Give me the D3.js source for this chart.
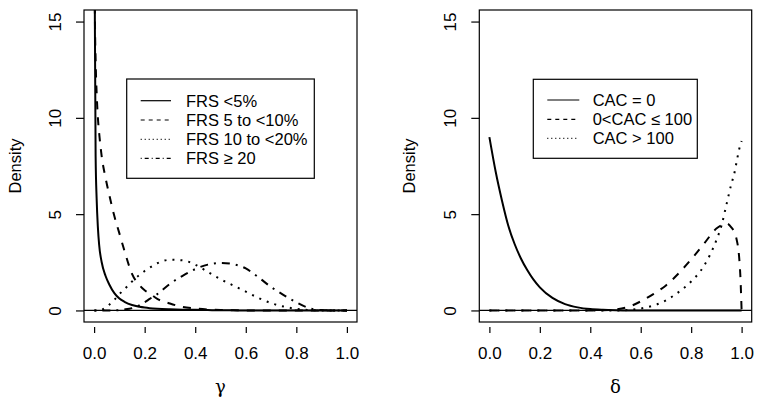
<!DOCTYPE html>
<html>
<head>
<meta charset="utf-8">
<script src="https://cdn.jsdelivr.net/npm/d3@7"></script>
<style>
  body { margin: 0; background: #fff; }
  svg { display: block; }
  text { font-family: "Liberation Sans", Arial, Helvetica, sans-serif; fill: #000; }
</style>
</head>
<body>
<svg id="chart" width="762" height="407"></svg>
<script>
// ---- data ----
// left panel: density of gamma by FRS group
var gammaGrid = [0.001, 0.003, 0.006, 0.01, 0.015, 0.02, 0.03, 0.045, 0.06, 0.08, 0.1, 0.12, 0.15, 0.18, 0.2, 0.22,
                 0.25, 0.3, 0.35, 0.4, 0.45, 0.5, 0.55, 0.6, 0.65, 0.7, 0.75, 0.8, 0.85, 0.9, 0.95, 1.0];
var frsLow  = [40, 15, 8, 5.8, 4.3, 3.4, 2.5, 1.8, 1.35, 0.9, 0.62, 0.45, 0.28, 0.19, 0.15, 0.12,
               0.09, 0.06, 0.04, 0.03, 0.02, 0.01, 0.005, 0, 0, 0, 0, 0, 0, 0, 0, 0];
var frsMid  = [20, 15.5, 13, 11.3, 10, 9.2, 8.0, 6.9, 6.0, 4.9, 4.0, 3.1, 1.9, 1.3, 1.05, 0.88,
               0.6, 0.36, 0.18, 0.1, 0.05, 0.02, 0.01, 0, 0, 0, 0, 0, 0, 0, 0, 0];
var frsHigh = [0, 0, 0, 0, 0, 0.01, 0.03, 0.15, 0.3, 0.55, 0.85, 1.1, 1.5, 1.85, 2.05, 2.22,
               2.45, 2.63, 2.6, 2.38, 2.0, 1.62, 1.3, 0.98, 0.65, 0.38, 0.2, 0.08, 0.02, 0, 0, 0];
var frsTop  = [0, 0, 0, 0, 0, 0, 0, 0, 0, 0, 0.02, 0.05, 0.12, 0.27, 0.42, 0.6,
               0.85, 1.38, 1.8, 2.15, 2.38, 2.47, 2.4, 2.18, 1.72, 1.22, 0.8, 0.42, 0.12, 0.02, 0, 0];
var frsLabels = ["FRS <5%", "FRS 5 to <10%", "FRS 10 to <20%", "FRS \u2265 20"];

// right panel: density of delta by CAC group
var deltaGrid = [0, 0.025, 0.05, 0.075, 0.1, 0.125, 0.15, 0.175, 0.2, 0.25, 0.3, 0.35, 0.4, 0.45, 0.5, 0.55,
                 0.6, 0.65, 0.7, 0.75, 0.8, 0.85, 0.9, 0.92, 0.94, 0.96, 0.97, 0.98, 0.99, 0.995, 1.0];
var cacZero = [9.0, 7.2, 5.7, 4.4, 3.45, 2.7, 2.1, 1.6, 1.2, 0.65, 0.33, 0.16, 0.07, 0.03, 0.01, 0,
               0, 0, 0, 0, 0, 0, 0, 0, 0, 0, 0, 0, 0, 0, 0];
var cacMid  = [0, 0, 0, 0, 0, 0, 0, 0, 0, 0, 0, 0, 0, 0.01, 0.05, 0.18,
               0.47, 0.85, 1.3, 1.92, 2.65, 3.45, 4.25, 4.42, 4.52, 4.3, 4.1, 3.7, 2.8, 1.8, 0];
var cacHigh = [0, 0, 0, 0, 0, 0, 0, 0, 0, 0, 0, 0, 0, 0, 0, 0.02,
               0.1, 0.25, 0.52, 0.95, 1.5, 2.3, 3.65, 4.4, 5.5, 6.6, 7.05, 7.7, 8.35, 8.6, 8.8];
var cacLabels = ["CAC = 0", "0<CAC \u2264 100", "CAC > 100"];

var xTicks = [0, 0.2, 0.4, 0.6, 0.8, 1.0];
var yTicks = [0, 5, 10, 15];

// R line types: solid, dashed, dotted, dotdash (pattern in units of lwd)
var ltys = [null, [4, 4], [1, 3], [1, 3, 4, 3]];
function dash(i, lwd) {
  return ltys[i] ? ltys[i].map(d => d * lwd).join(",") : null;
}

var svg = d3.select("#chart");

var panels = [
  {id: "left", x0: 84, x1: 357, grid: gammaGrid, series: [frsLow, frsMid, frsHigh, frsTop],
   labels: frsLabels, xlab: "\u03b3", ylabX: 21,
   legend: {x: 126.7, y: 79, w: 187.6, h: 99.3, lx0: 140.7, lx1: 171, tx: 186, ry: [100.7, 120, 139.3, 158.3]}},
  {id: "right", x0: 479.3, x1: 751.7, grid: deltaGrid, series: [cacZero, cacMid, cacHigh],
   labels: cacLabels, xlab: "\u03b4", ylabX: 415,
   legend: {x: 533.3, y: 79.3, w: 164, h: 79, lx0: 547.3, lx1: 579.3, tx: 592.7, ry: [100, 119.3, 138.3]}}
];

var y0 = 10, y1 = 322;

panels.forEach(function(p) {
  var x = d3.scaleLinear().domain([-0.04, 1.04]).range([p.x0, p.x1]);
  var y = d3.scaleLinear().domain([-0.6, 15.6]).range([y1, y0]);

  svg.append("clipPath").attr("id", "clip-" + p.id)
    .append("rect")
    .attr("x", p.x0).attr("y", y0)
    .attr("width", p.x1 - p.x0).attr("height", y1 - y0);

  // zero line (abline h = 0)
  svg.append("line")
    .attr("x1", p.x0).attr("x2", p.x1)
    .attr("y1", y(0)).attr("y2", y(0))
    .attr("stroke", "#000").attr("stroke-width", 1.2);

  var line = d3.line()
    .x((d, i) => x(p.grid[i]))
    .y(d => y(d))
    .curve(d3.curveMonotoneX);

  var g = svg.append("g").attr("clip-path", "url(#clip-" + p.id + ")");
  p.series.forEach(function(s, i) {
    g.append("path")
      .attr("d", line(s))
      .attr("fill", "none")
      .attr("stroke", "#000")
      .attr("stroke-width", 2)
      .attr("stroke-dasharray", dash(i, 2));
  });

  // plot box
  svg.append("rect")
    .attr("x", p.x0).attr("y", y0)
    .attr("width", p.x1 - p.x0).attr("height", y1 - y0)
    .attr("fill", "none").attr("stroke", "#000").attr("stroke-width", 1.2);

  // x axis (R style: ticks below the box, no axis line)
  var xAxis = svg.append("g")
    .attr("transform", `translate(0,${y1 + 5})`)
    .call(d3.axisBottom(x).tickValues(xTicks).tickSize(6).tickFormat(d3.format(".1f")));
  xAxis.select(".domain").remove();
  xAxis.selectAll("line").attr("stroke-width", 1.2);
  xAxis.selectAll("text")
    .attr("y", 31.5).attr("dy", 0)
    .style("font-size", "17px");

  // y axis (labels parallel to axis)
  var yAxis = svg.append("g")
    .attr("transform", `translate(${p.x0},0)`)
    .call(d3.axisLeft(y).tickValues(yTicks).tickSize(8));
  yAxis.select(".domain").remove();
  yAxis.selectAll("line").attr("stroke-width", 1.2);
  yAxis.selectAll("text")
    .attr("x", 0).attr("dy", 0)
    .attr("transform", "translate(-23,0) rotate(-90)")
    .attr("text-anchor", "middle")
    .style("font-size", "17px");

  // axis titles
  svg.append("text")
    .attr("x", (p.x0 + p.x1) / 2).attr("y", 393)
    .attr("text-anchor", "middle")
    .style("font-size", "18px")
    .style("font-family", "'DejaVu Serif', serif")
    .text(p.xlab);

  svg.append("text")
    .attr("transform", `translate(${p.ylabX},${(y0 + y1) / 2}) rotate(-90)`)
    .attr("text-anchor", "middle")
    .style("font-size", "16.5px")
    .text("Density");

  // legend
  var L = p.legend;
  svg.append("rect")
    .attr("x", L.x).attr("y", L.y).attr("width", L.w).attr("height", L.h)
    .attr("fill", "#fff").attr("stroke", "#000").attr("stroke-width", 1.2);

  p.labels.forEach(function(lab, i) {
    svg.append("line")
      .attr("x1", L.lx0).attr("x2", L.lx1)
      .attr("y1", L.ry[i]).attr("y2", L.ry[i])
      .attr("stroke", "#000").attr("stroke-width", 1.2)
      .attr("stroke-dasharray", dash(i, 1));
    svg.append("text")
      .attr("x", L.tx).attr("y", L.ry[i] + 6)
      .style("font-size", "16.5px")
      .text(lab);
  });
});
</script>
</body>
</html>
